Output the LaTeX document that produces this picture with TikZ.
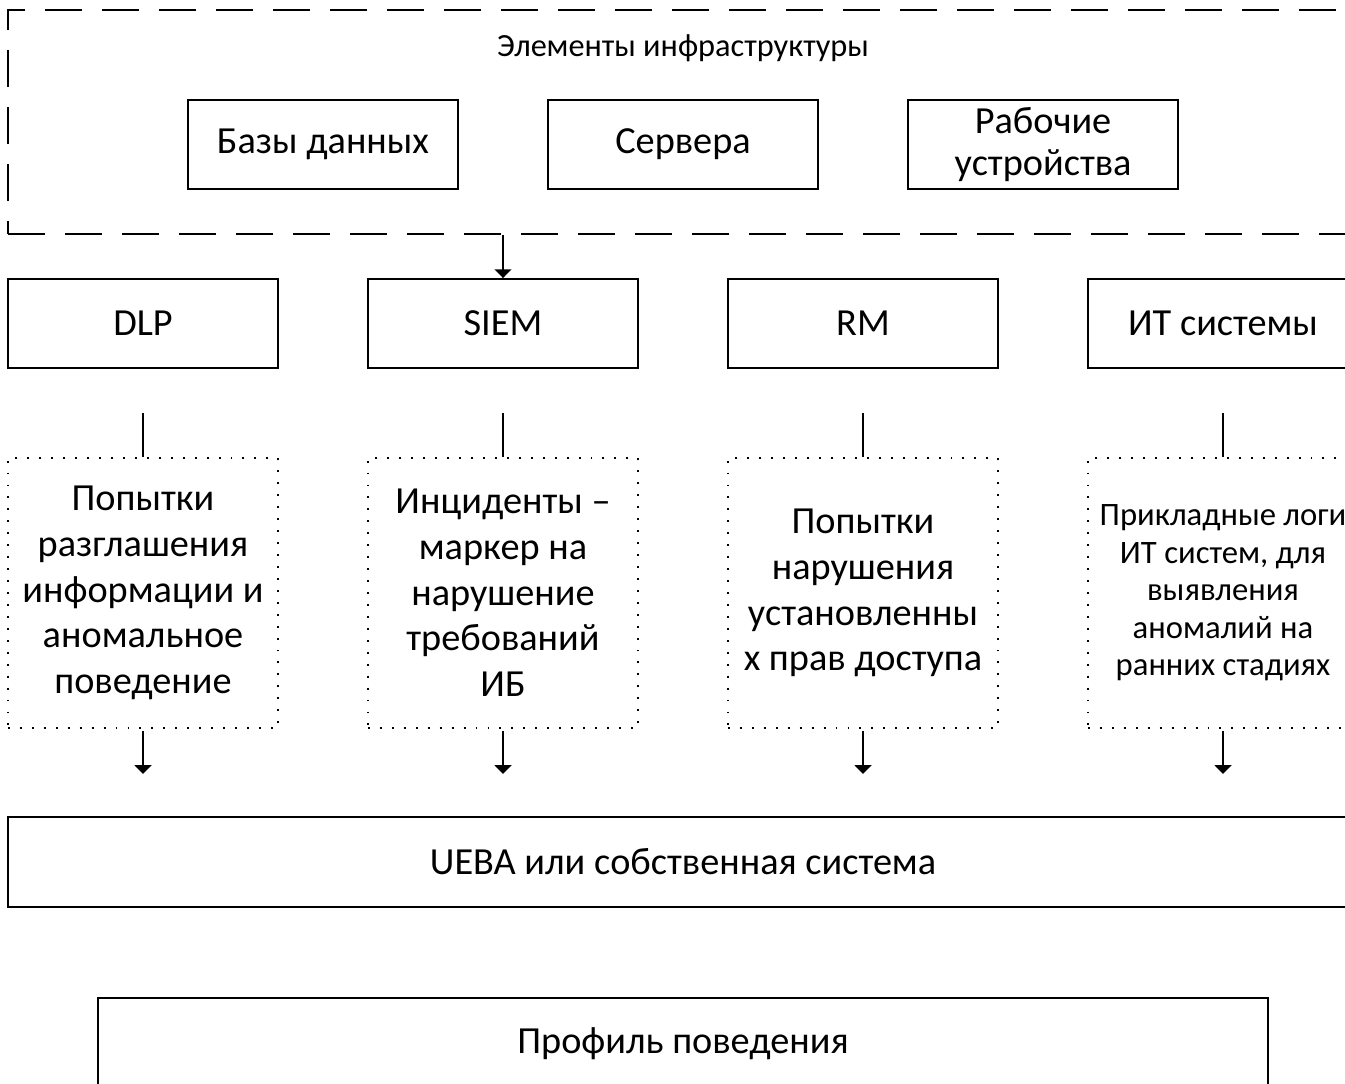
\documentclass[tikz,border=0pt]{standalone}
\usepackage{fontspec}
\setmainfont{Carlito}
\usetikzlibrary{arrows.meta}

\begin{document}
\begin{tikzpicture}[x=0.02cm, y=-0.02cm,
    box/.style={draw, line width=1.1pt, minimum width=5.4cm, minimum height=1.78cm, inner sep=0pt, align=center, font=\fontsize{21.8}{24}\selectfont},
    notebox/.style={draw, line width=1.1pt, dash pattern=on 1.1pt off 5.7pt, minimum width=5.4cm, minimum height=5.4cm, inner sep=0pt, align=center, font=\fontsize{21.8}{26}\selectfont},
    zonebox/.style={draw, line width=1.1pt, dash pattern=on 0.74cm off 0.4cm, minimum width=27cm, minimum height=4.48cm, inner sep=0pt},
    widebox/.style={draw, line width=1.1pt, minimum height=1.8cm, inner sep=0pt, font=\fontsize{21.8}{24}\selectfont},
    link/.style={line width=1.1pt},
    feed/.style={line width=1.1pt, -{Triangle[width=9.5pt,length=5pt]}}]
    \useasboundingbox (0,0) rectangle (1345,1083);
    \clip (0,0) rectangle (1345,1083);

    % Infrastructure zone
    \node[zonebox] (infra) at (683,122) {};
    \node[font=\fontsize{18.4}{22}\selectfont] (infratitle) at (683,48) {Элементы инфраструктуры};
    \node[box] (db) at (323,144.5) {Базы данных};
    \node[box] (srv) at (683,144.5) {Сервера};
    \node[box] (ws) at (1043,144.5) {Рабочие\\устройства};

    % Sources of events
    \node[box] (dlp) at (143,323.5) {DLP};
    \node[box] (siem) at (503,323.5) {SIEM};
    \node[box] (rm) at (863,323.5) {RM};
    \node[box] (it) at (1223,323.5) {ИТ системы};
    \draw[feed] (infra.south -| siem.north) -- (siem.north);

    % What each source gives
    \node[notebox] (dlpnote) at (143,593) {Попытки\\разглашения\\информации и\\аномальное\\поведение};
    \node[notebox] (siemnote) at (503,593) {Инциденты –\\маркер на\\нарушение\\требований\\ИБ};
    \node[notebox] (rmnote) at (863,593) {Попытки\\нарушения\\установленны\\х прав доступа};
    \node[notebox, font=\fontsize{18.6}{21.3}\selectfont] (itnote) at (1223,593) {Прикладные логи\\ИТ систем, для\\выявления\\аномалий на\\ранних стадиях};

    % Draw the links between sources and notes
    \draw[link] (dlp.south) ++(0,44) -- (dlpnote.north);
    \draw[link] (siem.south) ++(0,44) -- (siemnote.north);
    \draw[link] (rm.south) ++(0,44) -- (rmnote.north);
    \draw[link] (it.south) ++(0,44) -- (itnote.north);
    \draw[feed] (dlpnote.south) ++(0,2) -- ++(0,43);
    \draw[feed] (siemnote.south) ++(0,2) -- ++(0,43);
    \draw[feed] (rmnote.south) ++(0,2) -- ++(0,43);
    \draw[feed] (itnote.south) ++(0,2) -- ++(0,43);

    % Analysis and result
    \node[widebox, minimum width=27cm] (ueba) at (683,862) {UEBA или собственная система};
    \node[widebox, minimum width=23.4cm, minimum height=1.84cm] (profile) at (683,1044) {Профиль поведения};
\end{tikzpicture}
\end{document}
